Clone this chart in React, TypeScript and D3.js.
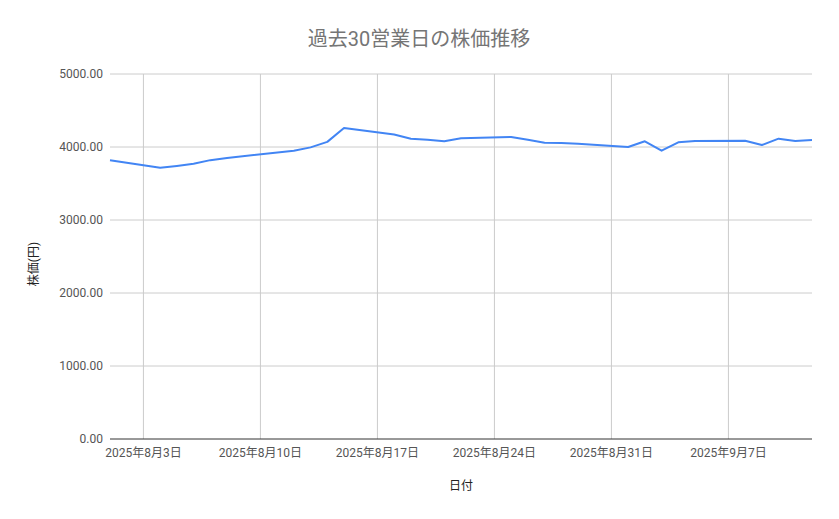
import {useEffect, useRef} from "react";
import * as d3 from "d3";

// 過去30営業日の終値 (8/11 は祝日)
const dates = [
  "2025-08-01",
  "2025-08-04", "2025-08-05", "2025-08-06", "2025-08-07", "2025-08-08",
  "2025-08-12", "2025-08-13", "2025-08-14", "2025-08-15",
  "2025-08-18", "2025-08-19", "2025-08-20", "2025-08-21", "2025-08-22",
  "2025-08-25", "2025-08-26", "2025-08-27", "2025-08-28", "2025-08-29",
  "2025-09-01", "2025-09-02", "2025-09-03", "2025-09-04", "2025-09-05",
  "2025-09-08", "2025-09-09", "2025-09-10", "2025-09-11", "2025-09-12",
];
const prices = [
  3820,
  3715, 3740, 3770, 3820, 3850,
  3950, 3995, 4070, 4260,
  4170, 4114, 4100, 4078, 4119,
  4137, 4100, 4059, 4055, 4045,
  4000, 4078, 3950, 4064, 4082,
  4086, 4027, 4114, 4082, 4096,
];
const yTicks = [0, 1000, 2000, 3000, 4000, 5000];
const xTicks = ["2025-08-03", "2025-08-10", "2025-08-17", "2025-08-24", "2025-08-31", "2025-09-07"];

const title = "過去30営業日の株価推移";
const xLabel = "日付";
const yLabel = "株価(円)";

const W = 839;
const H = 519;
const margin = {top: 74, right: 27, bottom: 80, left: 110};
const font = "Roboto, 'Noto Sans CJK JP', sans-serif";

export default function App() {
  const svgRef = useRef<SVGSVGElement>(null);

  useEffect(() => {
    document.body.style.margin = "0";
    if (!svgRef.current) return;
    const svg = d3.select(svgRef.current);
    svg.selectAll("*").remove();

    const parse = d3.timeParse("%Y-%m-%d");
    const data = dates.map((d, i) => ({date: parse(d) as Date, value: prices[i]}));

    const x = d3
      .scaleTime()
      .domain([parse("2025-08-01") as Date, parse("2025-09-12") as Date])
      .range([margin.left, W - margin.right]);
    const y = d3
      .scaleLinear()
      .domain([0, 5000])
      .range([H - margin.bottom, margin.top]);

    svg.append("rect").attr("width", W).attr("height", H).attr("fill", "#fff");

    // 横グリッド
    svg
      .selectAll(".hgrid")
      .data(yTicks.filter((t) => t > 0))
      .enter()
      .append("line")
      .attr("x1", margin.left)
      .attr("x2", W - margin.right)
      .attr("y1", (d) => y(d))
      .attr("y2", (d) => y(d))
      .attr("stroke", "#cccccc")
      .attr("stroke-width", 1);

    // 縦グリッド
    svg
      .selectAll(".vgrid")
      .data(xTicks.map((t) => parse(t) as Date))
      .enter()
      .append("line")
      .attr("x1", (d) => x(d))
      .attr("x2", (d) => x(d))
      .attr("y1", margin.top)
      .attr("y2", H - margin.bottom)
      .attr("stroke", "#cccccc")
      .attr("stroke-width", 1);

    // ゼロ線
    svg
      .append("line")
      .attr("x1", margin.left)
      .attr("x2", W - margin.right)
      .attr("y1", y(0))
      .attr("y2", y(0))
      .attr("stroke", "#333")
      .attr("stroke-width", 1);

    // Y軸ラベル
    svg
      .selectAll(".ytick")
      .data(yTicks)
      .enter()
      .append("text")
      .attr("x", margin.left - 7)
      .attr("y", (d) => y(d))
      .attr("dy", "0.35em")
      .attr("text-anchor", "end")
      .style("font-family", font)
      .style("font-size", "12px")
      .style("fill", "#555")
      .text((d) => d.toFixed(2));

    // X軸ラベル
    const fmt = (d: Date) => `${d.getFullYear()}年${d.getMonth() + 1}月${d.getDate()}日`;
    svg
      .selectAll(".xtick")
      .data(xTicks.map((t) => parse(t) as Date))
      .enter()
      .append("text")
      .attr("x", (d) => x(d))
      .attr("y", y(0) + 18)
      .attr("text-anchor", "middle")
      .style("font-family", font)
      .style("font-size", "12px")
      .style("fill", "#555")
      .text((d) => fmt(d));

    // 折れ線
    const line = d3
      .line<{date: Date; value: number}>()
      .x((d) => x(d.date))
      .y((d) => y(d.value));
    svg
      .append("path")
      .datum(data)
      .attr("d", line)
      .attr("fill", "none")
      .attr("stroke", "#4285f4")
      .attr("stroke-width", 2)
      .attr("stroke-linejoin", "round");

    // タイトル
    svg
      .append("text")
      .attr("x", 419)
      .attr("y", 46)
      .attr("text-anchor", "middle")
      .style("font-family", font)
      .style("font-size", "20px")
      .style("fill", "#757575")
      .text(title);

    // 軸タイトル
    svg
      .append("text")
      .attr("x", 461)
      .attr("y", 490)
      .attr("text-anchor", "middle")
      .style("font-family", font)
      .style("font-size", "12px")
      .style("fill", "#222")
      .text(xLabel);

    svg
      .append("text")
      .attr("transform", `translate(38,${264}) rotate(-90)`)
      .attr("text-anchor", "middle")
      .style("font-family", font)
      .style("font-size", "12px")
      .style("fill", "#222")
      .text(yLabel);
  }, []);

  return <svg ref={svgRef} width={W} height={H} style={{display: "block"}} />;
}
